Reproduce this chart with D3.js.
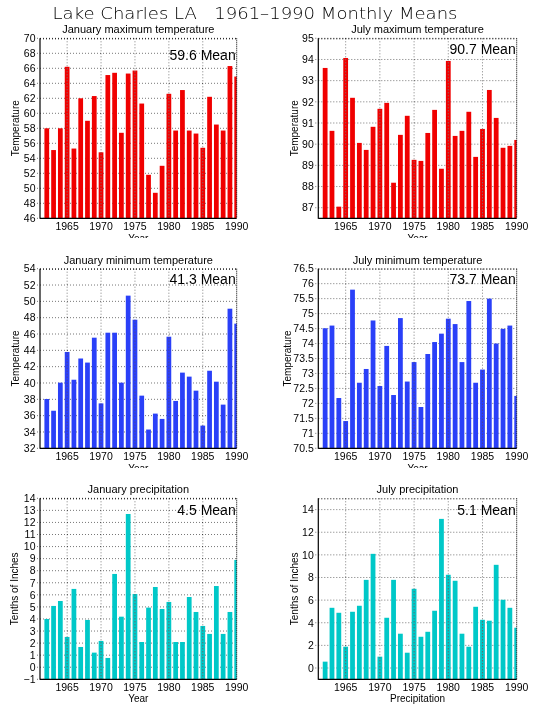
<!DOCTYPE html>
<html>
<head>
<meta charset="utf-8">
<script src="https://cdn.jsdelivr.net/npm/d3@7"></script>
<style>
  html, body { margin: 0; padding: 0; background: #fff; }
  svg { display: block; }
  text { font-family: "Liberation Sans", Arial, sans-serif; fill: #000; }
  .vgrid { mix-blend-mode: difference; }
</style>
</head>
<body>
<script>
// ---------------- data ----------------
const mainTitle = "Lake Charles LA   1961\u20131990 Monthly Means";
const years = [1962,1963,1964,1965,1966,1967,1968,1969,1970,1971,1972,1973,1974,1975,1976,
               1977,1978,1979,1980,1981,1982,1983,1984,1985,1986,1987,1988,1989,1990];
const xTickYears = [1965,1970,1975,1980,1985,1990];
const xGridYears = [1965,1970,1975,1980,1985];

const panelTitles = ["January maximum temperature","July maximum temperature",
                     "January minimum temperature","July minimum temperature",
                     "January precipitation","July precipitation"];
const meanLabels = ["59.6 Mean","90.7 Mean","41.3 Mean","73.7 Mean","4.5 Mean","5.1 Mean"];
const yTitles = ["Temperature","Temperature","Temperature","Temperature","Tenths of Inches","Tenths of Inches"];
const xTitles = ["Year","Year","Year","Year","Year","Precipitation"];

const janMax = [58.0,55.1,58.0,66.2,55.3,62.0,59.0,62.3,54.8,65.1,65.4,57.4,65.3,65.7,61.3,
                51.8,49.4,53.0,62.6,57.7,63.1,57.7,57.3,55.4,62.2,58.5,57.7,66.3,64.9];
const julMax = [93.6,90.63,87.05,94.07,92.19,90.06,89.73,90.82,91.67,91.95,88.18,90.44,91.34,89.26,89.21,
                90.53,91.62,88.84,93.93,90.39,90.63,91.53,89.40,90.72,92.56,91.24,89.83,89.92,90.2];
const janMin = [38.04,36.6,40.04,43.8,40.4,43.0,42.5,45.55,37.5,46.16,46.16,40.04,50.7,47.75,38.45,
                34.3,36.25,35.6,45.67,37.8,41.27,40.78,39.06,34.78,41.5,40.16,37.35,49.1,47.27];
const julMin = [74.51,74.6,72.18,71.41,75.8,72.69,73.15,74.77,72.58,73.92,72.28,74.85,72.73,73.38,71.88,
                73.65,74.05,74.33,74.83,74.65,73.38,75.42,72.69,73.13,75.5,74.0,74.49,74.6,72.25];
const janPrecip = [4.0,5.08,5.49,2.51,6.49,1.68,3.92,1.21,2.18,0.77,7.73,4.19,12.7,6.07,2.09,
                   4.94,6.65,4.83,5.41,2.09,2.09,5.82,4.58,3.42,2.76,6.73,2.76,4.58,8.89];
const julPrecip = [0.56,5.32,4.88,1.88,4.97,5.5,7.79,10.09,1.0,4.44,7.79,3.03,1.35,7.0,2.76,
                   3.2,5.06,13.18,8.24,7.71,3.03,1.88,5.41,4.26,4.18,9.12,6.03,5.32,3.56];

const janMaxTicks = [46,48,50,52,54,56,58,60,62,64,66,68,70];
const julMaxTicks = [87,88,89,90,91,92,93,94,95];
const janMinTicks = [32,34,36,38,40,42,44,46,48,50,52,54];
const julMinTicks = [70.5,71,71.5,72,72.5,73,73.5,74,74.5,75,75.5,76,76.5];
const janPrecipTicks = [-1,0,1,2,3,4,5,6,7,8,9,10,11,12,13,14];
const julPrecipTicks = [0,2,4,6,8,10,12,14];

const janMaxDomain = [46,70], julMaxDomain = [86.5,95];
const janMinDomain = [32,54], julMinDomain = [70.5,76.5];
const janPrecipDomain = [-1,14], julPrecipDomain = [-1,15];
const xDomain = [1961,1990];

const seriesList = [janMax, julMax, janMin, julMin, janPrecip, julPrecip];
const tickList = [janMaxTicks, julMaxTicks, janMinTicks, julMinTicks, janPrecipTicks, julPrecipTicks];
const domainList = [janMaxDomain, julMaxDomain, janMinDomain, julMinDomain, janPrecipDomain, julPrecipDomain];

// ---------------- layout / style ----------------
const W = 535, H = 711;
const colLeft = [40, 318.3], colRight = [236.7, 516.7];
const rowTop = [38.3, 268.7, 498.3], rowBottom = [218.3, 448.3, 679.3];
const rowClip = [238, 468, 711];
const xTitleOffset = [23.8, 23.8, 23.8, 23.8, 22.4, 22.4];
const yTitleOffset = [24.3, 23.6, 25, 31.3, 26, 23.6];
const meanOffset = [16.7, 11, 10.6, 10.6, 11.7, 11.7];
const colors = ["#f00000","#f00000","#2a40f8","#2a40f8","#00c8c8","#00c8c8"];

const svg = d3.select("body").append("svg").attr("width", W).attr("height", H);
svg.append("rect").attr("width", W).attr("height", H).attr("fill", "#fff");
const defs = svg.append("defs");

svg.append("text")
  .attr("x", 255).attr("y", 19.3)
  .attr("text-anchor", "middle")
  .attr("font-size", 16)
  .attr("textLength", 405).attr("lengthAdjust", "spacingAndGlyphs")
  .style("font-family", "'DejaVu Sans', sans-serif")
  .style("font-weight", 300)
  .style("white-space", "pre")
  .text(mainTitle);

seriesList.forEach((vals, i) => {
  const r = Math.floor(i / 2), c = i % 2;
  const L = colLeft[c], R = colRight[c], T = rowTop[r], B = rowBottom[r];
  const x = d3.scaleLinear().domain(xDomain).range([L, R]);
  const y = d3.scaleLinear().domain(domainList[i]).range([B, T]);
  const step = x(xDomain[0] + 1) - x(xDomain[0]);
  const bw = step * 0.7;

  const cid = "clip" + i;
  defs.append("clipPath").attr("id", cid)
    .append("rect").attr("x", L).attr("y", T).attr("width", R - L).attr("height", B - T);
  const lid = "lclip" + i;
  defs.append("clipPath").attr("id", lid)
    .append("rect").attr("x", 0).attr("y", 0).attr("width", W).attr("height", rowClip[r]);

  const g = svg.append("g");

  // horizontal gridlines (behind bars), extend a little left of axis
  g.append("g").selectAll("line").data(tickList[i]).join("line")
    .attr("x1", L - 3).attr("x2", R)
    .attr("y1", d => y(d)).attr("y2", d => y(d))
    .attr("stroke", "#777").attr("stroke-width", 1)
    .attr("stroke-dasharray", "1,2");

  // bars
  g.append("g").attr("clip-path", `url(#${cid})`)
    .selectAll("rect").data(years).join("rect")
    .attr("x", (d) => x(d) - bw / 2)
    .attr("width", bw)
    .attr("y", (d, j) => y(vals[j]))
    .attr("height", (d, j) => B - y(vals[j]))
    .attr("fill", colors[i]);

  // vertical gridlines over bars
  g.append("g").selectAll("line").data(xGridYears).join("line")
    .attr("class", "vgrid")
    .attr("x1", d => x(d)).attr("x2", d => x(d))
    .attr("y1", T).attr("y2", B)
    .attr("stroke", "#808080").attr("stroke-width", 1)
    .attr("stroke-dasharray", "1,2");

  // frame: top & right dotted, left & bottom solid
  g.append("line").attr("x1", L).attr("x2", R).attr("y1", T + 0.5).attr("y2", T + 0.5)
    .attr("stroke", "#000").attr("stroke-dasharray", "1,2");
  g.append("line").attr("x1", R).attr("x2", R).attr("y1", T).attr("y2", B)
    .attr("stroke", "#000").attr("stroke-dasharray", "1,1");
  g.append("line").attr("x1", L).attr("x2", L).attr("y1", T).attr("y2", B + 0.5)
    .attr("stroke", "#000").attr("stroke-width", 1.2);
  g.append("line").attr("x1", L).attr("x2", R).attr("y1", B).attr("y2", B)
    .attr("stroke", "#000").attr("stroke-width", 1.2);

  // y tick labels
  g.append("g").selectAll("text").data(tickList[i]).join("text")
    .attr("x", L - 4.5).attr("y", d => y(d))
    .attr("dy", "0.36em")
    .attr("text-anchor", "end")
    .attr("font-size", 10.5)
    .text(d => String(d).replace("-", "\u2212"));

  // x tick labels
  g.append("g").selectAll("text").data(xTickYears).join("text")
    .attr("x", d => x(d)).attr("y", B + 7.8)
    .attr("dy", "0.36em")
    .attr("text-anchor", "middle")
    .attr("font-size", 10.5)
    .text(d => d);

  // x title (clipped for upper rows)
  g.append("text")
    .attr("clip-path", `url(#${lid})`)
    .attr("x", (L + R) / 2).attr("y", B + xTitleOffset[i])
    .attr("text-anchor", "middle")
    .attr("font-size", 10)
    .text(xTitles[i]);

  // y title
  g.append("text")
    .attr("transform", `translate(${L - yTitleOffset[i] + 3.5},${(T + B) / 2}) rotate(-90)`)
    .attr("text-anchor", "middle")
    .attr("font-size", 10)
    .text(yTitles[i]);

  // panel title
  g.append("text")
    .attr("x", (L + R) / 2).attr("y", T - 5)
    .attr("text-anchor", "middle")
    .attr("font-size", 11)
    .text(panelTitles[i]);

  // mean label
  g.append("text")
    .attr("x", R - 1).attr("y", T + meanOffset[i])
    .attr("dy", "0.36em")
    .attr("text-anchor", "end")
    .attr("font-size", 14)
    .text(meanLabels[i]);
});
</script>
</body>
</html>
